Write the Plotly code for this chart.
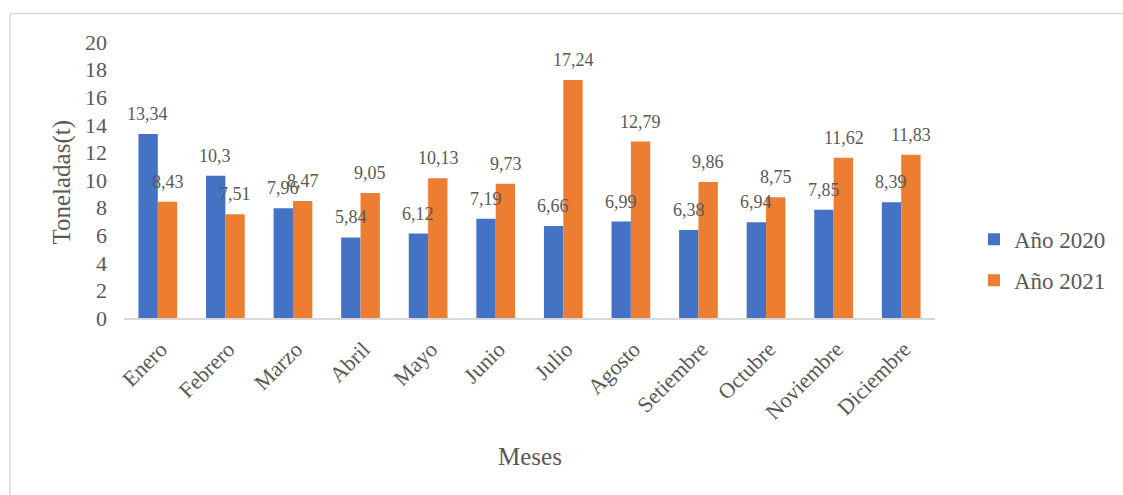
import plotly.graph_objects as go

meses = ["Enero", "Febrero", "Marzo", "Abril", "Mayo", "Junio", "Julio",
         "Agosto", "Setiembre", "Octubre", "Noviembre", "Diciembre"]
anio_2020 = [13.34, 10.3, 7.96, 5.84, 6.12, 7.19, 6.66, 6.99, 6.38, 6.94, 7.85, 8.39]
anio_2021 = [8.43, 7.51, 8.47, 9.05, 10.13, 9.73, 17.24, 12.79, 9.86, 8.75, 11.62, 11.83]
y_ticks = list(range(0, 21, 2))

FONT = "Liberation Serif, Times New Roman, serif"
GRAY = "#595959"
BLUE = "#4472C4"
ORANGE = "#ED7D31"

W, H = 1123, 495
L, R = 124, 956
T, B = 41.5, 318.5
pw, ph = R - L, B - T


def px(x):
    return (x - L) / pw


def py(y):
    return (B - y) / ph


def fmt(v):
    s = f"{v:.2f}".rstrip("0").rstrip(".")
    return s.replace(".", ",")


fig = go.Figure()
fig.add_trace(go.Bar(x=meses, y=anio_2020, name="Año 2020", marker_color=BLUE,
                     marker_line_width=0, legendgroup="a"))
fig.add_trace(go.Bar(x=meses, y=anio_2021, name="Año 2021", marker_color=ORANGE,
                     marker_line_width=0, legendgroup="b"))

annotations = []
offset = 9.9
for series, sh in ((anio_2020, -offset), (anio_2021, offset)):
    for m, v in zip(meses, series):
        annotations.append(dict(x=m, y=v, xref="x", yref="y", text=fmt(v),
                                showarrow=False, xshift=sh, yshift=20,
                                yanchor="middle", xanchor="center",
                                font=dict(family=FONT, size=18, color=GRAY)))

annotations.append(dict(x=px(541), y=py(458), xref="paper", yref="paper",
                        text="Meses", showarrow=False, xanchor="center", yanchor="middle",
                        font=dict(family=FONT, size=25, color=GRAY)))
annotations.append(dict(x=px(60), y=py(182), xref="paper", yref="paper",
                        text="Toneladas(t)", showarrow=False, textangle=-90,
                        xanchor="center", yanchor="middle",
                        font=dict(family=FONT, size=25, color=GRAY)))

frame = dict(color="#D9D9D9", width=1.5)
fig.update_layout(
    width=W, height=H,
    margin=dict(l=L, r=W - R, t=T, b=H - B, pad=0),
    paper_bgcolor="white", plot_bgcolor="white",
    barmode="group", bargap=0.427, bargroupgap=0,
    font=dict(family=FONT, color=GRAY),
    annotations=annotations,
    showlegend=True,
    legend=dict(x=px(996), y=py(218), xanchor="left", yanchor="top",
                font=dict(family=FONT, size=23, color=GRAY),
                traceorder="grouped", tracegroupgap=8,
                itemwidth=30, bgcolor="rgba(0,0,0,0)"),
    shapes=[
        dict(type="line", xref="paper", yref="paper",
             x0=px(7), x1=px(1170), y0=py(13), y1=py(13), line=frame, layer="below"),
        dict(type="line", xref="paper", yref="paper",
             x0=px(7), x1=px(7), y0=py(13), y1=py(540), line=frame, layer="below"),
    ],
)

fig.update_xaxes(showgrid=False, showline=True, linecolor="#D9D9D9", linewidth=1.5,
                 ticks="", tickangle=-45,
                 tickfont=dict(family=FONT, size=22, color=GRAY),
                 ticklabelstandoff=8, ticklabelshift=3)
fig.update_yaxes(range=[0, 20], tickvals=y_ticks, showgrid=False, showline=False,
                 zeroline=False, ticks="",
                 tickfont=dict(family=FONT, size=22, color=GRAY),
                 ticklabelstandoff=16)

fig.write_html("out.html")
